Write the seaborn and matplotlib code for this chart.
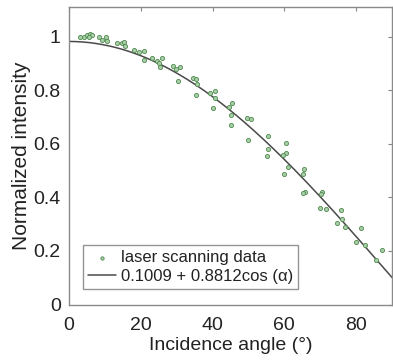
import numpy as np
import pandas as pd
import matplotlib
matplotlib.use("Agg")
import matplotlib.pyplot as plt
import seaborn as sns

# Measured normalized intensity versus incidence angle (degrees)
angle_deg = [3.2, 4.2, 5.1, 5.8, 6.3, 5.6, 8.3, 9.3, 10.3, 10.7,
             13.4, 14.8, 15.4, 15.6, 18.1, 19.4, 20.8, 20.8, 23.1, 24.5,
             25.0, 25.3, 25.9, 29.0, 29.9, 30.8, 30.4, 34.5, 35.5, 35.6,
             35.3, 39.2, 40.6, 40.6, 40.1, 44.7, 45.3, 45.2, 45.2, 49.6,
             50.8, 50.0, 55.4, 55.4, 55.1, 60.5, 60.5, 59.7, 60.9, 60.0,
             65.6, 65.1, 65.8, 65.3, 70.6, 70.2, 69.9, 71.7, 75.8, 76.0,
             74.6, 76.9, 81.3, 79.9, 82.4, 87.1, 85.5]
intensity = [1.000, 1.000, 1.007, 1.011, 1.006, 0.997, 0.997, 0.989, 0.997, 0.984,
             0.978, 0.976, 0.980, 0.966, 0.951, 0.941, 0.947, 0.914, 0.922, 0.910,
             0.901, 0.885, 0.922, 0.891, 0.881, 0.888, 0.833, 0.846, 0.841, 0.822,
             0.783, 0.791, 0.797, 0.770, 0.734, 0.738, 0.751, 0.708, 0.672, 0.697,
             0.691, 0.616, 0.631, 0.581, 0.554, 0.604, 0.564, 0.557, 0.514, 0.489,
             0.506, 0.489, 0.421, 0.416, 0.422, 0.414, 0.360, 0.355, 0.354, 0.318,
             0.303, 0.288, 0.286, 0.234, 0.224, 0.205, 0.168]

# Cosine fit coefficients: I = a + b*cos(alpha)
fit_a = 0.1009
fit_b = 0.8812

x_ticks = [0, 20, 40, 60, 80]
y_ticks = [0, 0.2, 0.4, 0.6, 0.8, 1]
y_tick_labels = ["0", "0.2", "0.4", "0.6", "0.8", "1"]

sns.set_style("white")
plt.rcParams["font.family"] = ["Liberation Sans", "DejaVu Sans"]

data = pd.DataFrame({"angle": angle_deg, "intensity": intensity})
fit_x = np.linspace(0, 90, 200)
fit = pd.DataFrame({"angle": fit_x,
                    "intensity": fit_a + fit_b * np.cos(np.radians(fit_x))})

fig = plt.figure(figsize=(3.93, 3.60), dpi=100)
ax = fig.add_axes([0.1756, 0.154, 0.822, 0.826])

sns.scatterplot(data=data, x="angle", y="intensity", ax=ax,
                s=9, color="#a9cfa9", edgecolor="#4f8a4f", linewidth=0.6,
                label="laser scanning data", zorder=3)
sns.lineplot(data=fit, x="angle", y="intensity", ax=ax,
             color="#4a4a4a", linewidth=1.1,
             label="0.1009 + 0.8812cos (α)", zorder=2)

ax.set_xlim(0, 90)
ax.set_ylim(0, 1.11)
ax.set_xticks(x_ticks)
ax.set_yticks(y_ticks)
ax.set_yticklabels(y_tick_labels)
ax.tick_params(direction="in", length=3, width=0.8, color="#888888",
               labelsize=14, labelcolor="#222222", top=True, right=True)
ax.tick_params(axis="x", pad=9)
ax.tick_params(axis="y", pad=6)
ax.set_xlabel("Incidence angle (°)", fontsize=14, color="#222222", labelpad=2)
ax.set_ylabel("Normalized intensity", fontsize=15, color="#222222", labelpad=2)
for sp in ax.spines.values():
    sp.set_color("#8a8a8a")
    sp.set_linewidth(1.0)

leg = ax.legend(loc="lower left", bbox_to_anchor=(0.043, 0.052),
                borderaxespad=0, fontsize=12, frameon=True, fancybox=False,
                handlelength=1.7, handletextpad=0.3, borderpad=0.3,
                labelspacing=0.25, markerscale=0.8)
leg.get_frame().set_edgecolor("#7a7a7a")
leg.get_frame().set_linewidth(1.0)
for t in leg.get_texts():
    t.set_color("#222222")

fig.savefig("out.png", dpi=100)
